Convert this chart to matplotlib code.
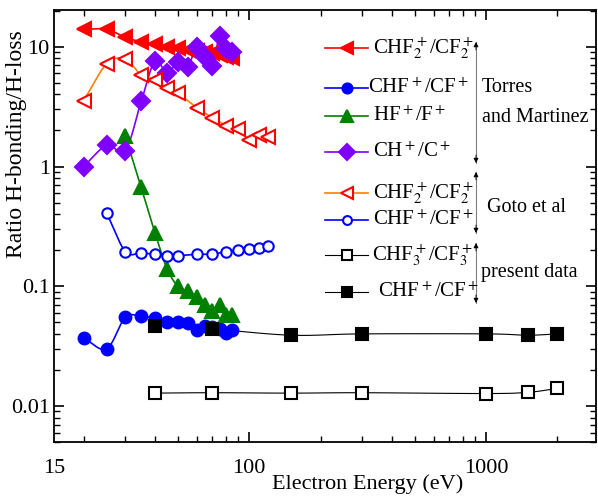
import numpy as np
import matplotlib
matplotlib.use('Agg')
import matplotlib.pyplot as plt

plt.rcParams['font.family'] = 'Liberation Serif'
plt.rcParams['mathtext.fontset'] = 'stix'

# Torres and Martinez
e_tm = [20, 25, 30, 35, 40, 45, 50, 55, 60, 65, 70, 75, 80, 85]
chf2_tm = [14, 14, 12, 11, 10.5, 10, 9.7, 9.4, 9.2, 9.0, 8.8, 8.6, 8.3, 8.0]
chf_tm = [0.037, 0.030, 0.055, 0.056, 0.054, 0.050, 0.050, 0.049, 0.043,
          0.047, 0.046, 0.044, 0.041, 0.043]
e_hf = [30, 35, 40, 45, 50, 55, 60, 65, 70, 75, 80, 85]
hf_tm = [1.8, 0.67, 0.28, 0.14, 0.10, 0.091, 0.081, 0.070, 0.062, 0.070,
         0.057, 0.057]
ch_tm = [1.0, 1.5, 1.36, 3.5, 7.6, 6.0, 7.5, 6.8, 10.0, 8.3, 6.9, 12.4,
         9.6, 9.1]

# Goto et al
e_goto = [20, 25, 30, 35, 40, 45, 50, 60, 70, 80, 90, 100, 110, 120]
chf2_goto = [3.55, 7.2, 7.9, 5.8, 5.3, 4.5, 4.1, 3.1, 2.56, 2.2, 2.07, 1.68,
             1.85, 1.78]
e_goto_chf = [25, 30, 35, 40, 45, 50, 60, 70, 80, 90, 100, 110, 120]
chf_goto = [0.41, 0.195, 0.19, 0.185, 0.18, 0.18, 0.185, 0.185, 0.195, 0.2,
            0.205, 0.21, 0.215]

# present data
e_pd = [40, 70, 150, 300, 1000, 1500, 2000]
chf3_pd = [0.0128, 0.0129, 0.0128, 0.0129, 0.0127, 0.0130, 0.0140]
chf_pd = [0.047, 0.044, 0.039, 0.040, 0.040, 0.039, 0.040]


def smooth(x, y, n=20):
    """Catmull-Rom curve through the points in log-log space."""
    lx, ly = np.log10(x), np.log10(y)
    px = [lx[0] - (lx[1] - lx[0])] + list(lx) + [lx[-1] + (lx[-1] - lx[-2])]
    py = [ly[0] - (ly[1] - ly[0])] + list(ly) + [ly[-1] + (ly[-1] - ly[-2])]
    ox, oy = [], []
    t = np.linspace(0, 1, n, endpoint=False)
    for i in range(1, len(px) - 2):
        for arr, out in ((px, ox), (py, oy)):
            p0, p1, p2, p3 = arr[i - 1], arr[i], arr[i + 1], arr[i + 2]
            out.extend(0.5 * (2 * p1 + (-p0 + p2) * t
                              + (2 * p0 - 5 * p1 + 4 * p2 - p3) * t ** 2
                              + (-p0 + 3 * p1 - 3 * p2 + p3) * t ** 3))
    ox.append(lx[-1])
    oy.append(ly[-1])
    return 10 ** np.array(ox), 10 ** np.array(oy)


RED, BLUE, GREEN, PURPLE, ORANGE = '#ff0000', '#0000ff', '#008000', '#8000ff', '#ff8000'

series = [
    # x, y, line colour, marker, marker face, marker edge, size, line width
    (e_tm, chf2_tm, RED, '<', RED, RED, 10, 1.2),
    (e_tm, chf_tm, BLUE, 'o', BLUE, BLUE, 8.5, 1.2),
    (e_hf, hf_tm, GREEN, '^', GREEN, GREEN, 9.5, 1.2),
    (e_tm, ch_tm, PURPLE, 'D', PURPLE, PURPLE, 9.5, 1.2),
    (e_goto, chf2_goto, ORANGE, '<', 'white', RED, 10, 1.2),
    (e_goto_chf, chf_goto, BLUE, 'o', 'white', BLUE, 7.5, 1.2),
    (e_pd, chf3_pd, 'black', 's', 'white', 'black', 8.5, 0.8),
    (e_pd, chf_pd, 'black', 's', 'black', 'black', 8.5, 0.8),
]

fig = plt.figure(figsize=(5.98, 4.96), dpi=100)
ax = fig.add_axes([54 / 598, 1 - 442 / 496, 542 / 598, 432 / 496])

for x, y, lc, m, mf, me, ms, lw in series:
    sx, sy = smooth(x, y)
    ax.plot(sx, sy, color=lc, lw=lw, zorder=2)
    ax.plot(x, y, ls='none', marker=m, ms=ms, mfc=mf, mec=me, mew=1.5, zorder=3)

ax.set_xscale('log')
ax.set_yscale('log')
ax.set_xlim(15, 2910)
ax.set_ylim(0.005, 20.3)
ax.set_xticks([15, 100, 1000])
ax.set_xticklabels(['15', '100', '1000'])
ax.set_yticks([0.01, 0.1, 1, 10])
ax.set_yticklabels(['0.01', '0.1', '1', '10'])
ax.tick_params(which='both', direction='in', top=True, right=True, labelsize=16)
ax.tick_params(which='major', length=7, width=1.2)
ax.tick_params(which='minor', length=4, width=1)
ax.tick_params(axis='x', pad=12)
ax.tick_params(axis='y', pad=3)
ax.xaxis.get_major_ticks()[0].tick1line.set_visible(False)
ax.xaxis.get_major_ticks()[0].tick2line.set_visible(False)
for s in ax.spines.values():
    s.set_linewidth(1.3)

ax.set_xlabel('Electron Energy (eV)', fontsize=16)
ax.xaxis.set_label_coords((368 - 54) / 542, -(474 - 442) / 432)
ax.set_ylabel('Ratio H-bonding/H-loss', fontsize=17)
ax.yaxis.set_label_coords(-(54 - 27) / 542, (442 - 144) / 432)


def fx(px):
    return (px - 54) / 542


def fy(py):
    return (442 - py) / 432


# legend drawn by hand
labels = [
    r'CHF$_2^+$/CF$_2^+$', r'CHF$^+$/CF$^+$', r'HF$^+$/F$^+$',
    r'CH$^+$/C$^+$', r'CHF$_2^+$/CF$_2^+$', r'CHF$^+$/CF$^+$',
    r'CHF$_3^+$/CF$_3^+$', r'CHF$^+$/CF$^+$',
]
rows = [48, 88, 116, 152, 193, 220, 255, 292]
text_x = [373, 368, 373, 373, 373, 373, 372, 378]
for (x, y, lc, m, mf, me, ms, lw), lab, ry, tx in zip(series, labels, rows, text_x):
    ax.plot([fx(325), fx(368)], [fy(ry)] * 2, color=lc, lw=lw,
            transform=ax.transAxes, clip_on=False)
    ax.plot([fx(347)], [fy(ry)], marker=m, ms=ms * 0.85, mfc=mf, mec=me,
            mew=1.5, transform=ax.transAxes, clip_on=False)
    ax.text(fx(tx), fy(ry), lab, transform=ax.transAxes, fontsize=15,
            va='center', ha='left')

# group brackets: grey shaft with black heads
for top, bot in [(42, 163), (172, 233), (243, 303)]:
    ax.plot([fx(476)] * 2, [fy(top), fy(bot)], color='#808080', lw=0.8,
            transform=ax.transAxes)
    for end, start in [(top, top + 8), (bot, bot - 8)]:
        ax.annotate('', xy=(fx(476), fy(end)), xytext=(fx(476), fy(start)),
                    xycoords='axes fraction',
                    arrowprops=dict(arrowstyle='-|>', color='black', lw=0.6,
                                    mutation_scale=7, shrinkA=0, shrinkB=0))

for txt, px, py in [('Torres', 482, 87), ('and Martinez', 482, 117),
                    ('Goto et al', 487, 207), ('present data', 481, 273)]:
    ax.text(fx(px), fy(py), txt, transform=ax.transAxes, fontsize=14.5,
            va='center', ha='left')

fig.savefig('out.png', dpi=100)
